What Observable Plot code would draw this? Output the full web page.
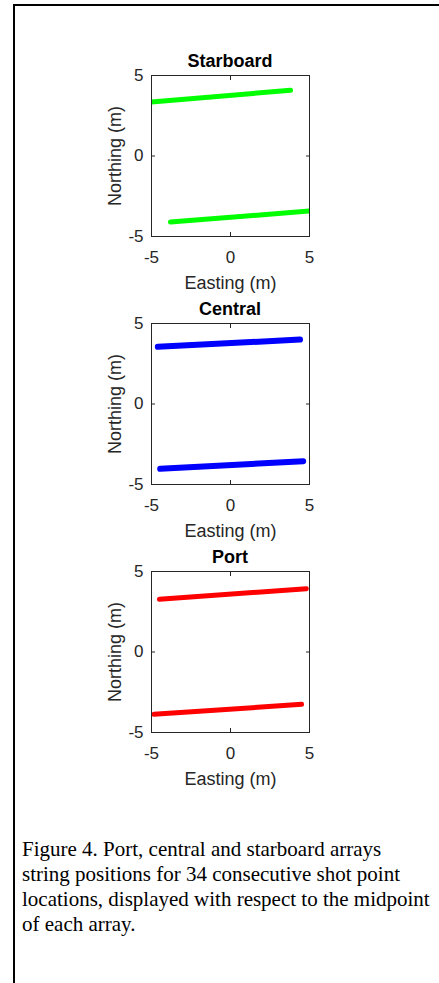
<!DOCTYPE html>
<html>
<head>
<meta charset="utf-8">
<script src="https://cdn.jsdelivr.net/npm/d3@7"></script>
<script src="https://cdn.jsdelivr.net/npm/@observablehq/plot@0.6"></script>
<style>
  html, body { margin: 0; padding: 0; background: #fff; width: 439px; height: 983px; overflow: hidden; }
  #border { position: absolute; left: 13px; top: 4px; width: 500px; height: 1100px; border-left: 2px solid #000; border-top: 2px solid #000; box-sizing: border-box; }
  .panel { position: absolute; left: 100px; }
  .ptitle { position: absolute; left: 130px; width: 200px; text-align: center; font: bold 18px "Liberation Sans", Arial, sans-serif; line-height: 18px; color: #000; }
  #caption { position: absolute; left: 22px; top: 837px; font: 21px "Liberation Serif", "Times New Roman", serif; line-height: 25px; color: #000; white-space: nowrap; }
</style>
</head>
<body>
<div id="border"></div>
<div id="root"></div>
<div id="caption">Figure 4. Port, central and starboard arrays<br>string positions for 34 consecutive shot point<br>locations, displayed with respect to the midpoint<br>of each array.</div>
<script>
// ---- data ----
const panelTitles = ["Starboard", "Central", "Port"];
const panelColors = ["#00ff00", "#0000ff", "#ff0000"];
const stringNames = ["upper", "lower"];
const axisTicks = [-5, 0, 5];
const xLabel = "Easting (m)";
const yLabel = "Northing (m)";

// easting / northing (m) of each string's end points
const starboardEasting  = [[-5.0, 3.8], [-3.8, 5.0]];
const starboardNorthing = [[3.36, 4.08], [-4.1, -3.42]];
const centralEasting    = [[-4.6, 4.4], [-4.45, 4.6]];
const centralNorthing   = [[3.55, 4.0], [-4.02, -3.55]];
const portEasting       = [[-4.5, 4.8], [-4.85, 4.5]];
const portNorthing      = [[3.27, 3.93], [-3.87, -3.25]];

const panelEasting = [starboardEasting, centralEasting, portEasting];
const panelNorthing = [starboardNorthing, centralNorthing, portNorthing];

const frameTops = [75, 323, 571];
const root = document.getElementById("root");
const INK = "#262626";
const fmt = d => String(d);
const blank = () => "";

panelTitles.forEach((title, p) => {
  const rows = [];
  stringNames.forEach((s, i) => {
    panelEasting[p][i].forEach((e, j) => rows.push({string: s, e, n: panelNorthing[p][i][j]}));
  });

  const chart = Plot.plot({
    width: 220, height: 227,
    marginLeft: 51, marginRight: 11, marginTop: 10, marginBottom: 56,
    x: {domain: [-5, 5]},
    y: {domain: [-5, 5]},
    style: {fontFamily: "'Liberation Sans', Arial, sans-serif", fontSize: "17px", color: INK, background: "transparent", overflow: "visible"},
    marks: [
      Plot.line(rows, {x: "e", y: "n", z: "string", stroke: panelColors[p], strokeWidth: p === 1 ? 6 : 5, strokeLinecap: "round", clip: true}),
      Plot.frame({stroke: INK, strokeWidth: 1}),
      // tick labels
      Plot.axisX(axisTicks, {anchor: "bottom", tickSize: 0, tickPadding: 14, tickFormat: fmt, label: null, fontSize: 17}),
      Plot.axisY(axisTicks, {anchor: "left", tickSize: 0, tickPadding: 8, tickFormat: fmt, label: null, fontSize: 17}),
      // axis titles
      Plot.axisX(axisTicks, {anchor: "bottom", tickSize: 0, tickFormat: blank, label: xLabel, labelAnchor: "center", labelArrow: "none", labelOffset: 52, fontSize: 18}),
      Plot.axisY(axisTicks, {anchor: "left", tickSize: 0, tickFormat: blank, label: yLabel, labelAnchor: "center", labelArrow: "none", labelOffset: 43, fontSize: 18}),
      // inward ticks on all four sides
      Plot.axisX(axisTicks, {anchor: "bottom", tickSize: -4, tickFormat: blank, label: null, stroke: INK}),
      Plot.axisX(axisTicks, {anchor: "top", tickSize: -4, tickFormat: blank, label: null, stroke: INK}),
      Plot.axisY(axisTicks, {anchor: "left", tickSize: -4, tickFormat: blank, label: null, stroke: INK}),
      Plot.axisY(axisTicks, {anchor: "right", tickSize: -4, tickFormat: blank, label: null, stroke: INK})
    ]
  });
  chart.classList.add("panel");
  chart.style.top = (frameTops[p] - 10) + "px";
  root.appendChild(chart);

  const t = document.createElement("div");
  t.className = "ptitle";
  t.textContent = title;
  t.style.top = (frameTops[p] - 23) + "px";
  root.appendChild(t);
});
</script>
</body>
</html>
